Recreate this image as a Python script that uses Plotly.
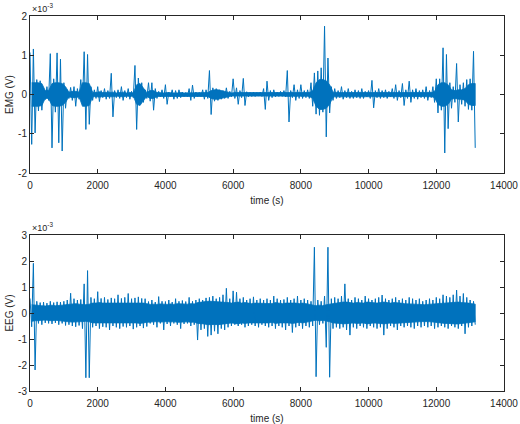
import plotly.graph_objects as go

# Time bins (start of each 100 s window), seconds
bin_start = list(range(0, 13200, 100))
bin_half = 50

# EMG extreme envelope per 100 s window (units of 1e-3 V)
emg_hi = [1.07, 1.16, 0.38, 0.35, 0.15, 0.20, 1.04, 0.40, 1.06, 0.90,
          0.30, 0.12, 0.18, 0.20, 0.15, 0.38, 1.09, 1.02, 0.20, 0.12,
          0.20, 0.10, 0.15, 0.10, 0.54, 0.10, 0.12, 0.20, 0.10, 0.15,
          0.08, 0.74, 0.42, 0.30, 0.12, 0.30, 0.30, 0.15, 0.08, 0.12,
          0.25, 0.06, 0.12, 0.10, 0.12, 0.06, 0.05, 0.15, 0.24, 0.06,
          0.05, 0.12, 0.12, 0.61, 0.17, 0.15, 0.12, 0.10, 0.17, 0.08,
          0.40, 0.17, 0.10, 0.41, 0.07, 0.05, 0.06, 0.05, 0.06, 0.15,
          0.34, 0.10, 0.12, 0.06, 0.08, 0.10, 0.61, 0.10, 0.25, 0.12,
          0.25, 0.10, 0.12, 0.30, 0.55, 0.60, 0.68, 1.74, 0.93, 0.20,
          0.15, 0.10, 0.20, 0.10, 0.15, 0.08, 0.12, 0.10, 0.15, 0.08,
          0.10, 0.36, 0.10, 0.15, 0.10, 0.12, 0.08, 0.15, 0.25, 0.10,
          0.28, 0.12, 0.34, 0.12, 0.15, 0.10, 0.12, 0.20, 0.10, 0.20,
          0.40, 0.40, 1.19, 1.02, 0.30, 0.20, 0.79, 0.25, 0.30, 0.38,
          0.40, 1.10]
emg_lo = [-1.27, -0.98, -0.42, -0.40, -0.13, -0.15, -1.36, -0.45, -1.23, -1.44,
          -0.35, -0.10, -0.15, -0.30, -0.12, -0.25, -0.89, -0.76, -0.15, -0.10,
          -0.18, -0.08, -0.12, -0.10, -0.57, -0.08, -0.10, -0.15, -0.08, -0.12,
          -0.08, -0.89, -0.25, -0.20, -0.10, -0.17, -0.40, -0.10, -0.06, -0.10,
          -0.25, -0.05, -0.12, -0.10, -0.08, -0.05, -0.05, -0.15, -0.10, -0.05,
          -0.05, -0.12, -0.10, -0.51, -0.17, -0.15, -0.12, -0.10, -0.10, -0.06,
          -0.10, -0.25, -0.08, -0.28, -0.06, -0.05, -0.05, -0.04, -0.05, -0.38,
          -0.15, -0.08, -0.06, -0.05, -0.05, -0.06, -0.70, -0.08, -0.15, -0.10,
          -0.10, -0.08, -0.10, -0.30, -0.50, -0.53, -0.45, -1.08, -0.47, -0.15,
          -0.10, -0.08, -0.12, -0.08, -0.10, -0.10, -0.08, -0.10, -0.10, -0.06,
          -0.10, -0.34, -0.08, -0.10, -0.08, -0.10, -0.06, -0.10, -0.15, -0.08,
          -0.28, -0.10, -0.20, -0.10, -0.12, -0.08, -0.10, -0.15, -0.08, -0.20,
          -0.47, -0.40, -1.49, -0.87, -0.35, -0.20, -0.70, -0.25, -0.30, -0.38,
          -0.40, -1.36]
# EMG dense-core half width per 100 s window (units of 1e-3 V)
emg_core = [0.30, 0.30, 0.30, 0.28, 0.10, 0.10, 0.28, 0.30, 0.30, 0.28,
            0.20, 0.06, 0.08, 0.08, 0.06, 0.30, 0.30, 0.28, 0.06, 0.05,
            0.07, 0.05, 0.05, 0.05, 0.06, 0.04, 0.05, 0.06, 0.04, 0.05,
            0.04, 0.25, 0.28, 0.15, 0.05, 0.10, 0.10, 0.05, 0.04, 0.04,
            0.05, 0.04, 0.04, 0.04, 0.05, 0.04, 0.04, 0.05, 0.04, 0.04,
            0.04, 0.05, 0.05, 0.10, 0.12, 0.12, 0.10, 0.08, 0.06, 0.04,
            0.05, 0.05, 0.04, 0.05, 0.04, 0.04, 0.04, 0.04, 0.04, 0.05,
            0.05, 0.04, 0.04, 0.04, 0.04, 0.04, 0.05, 0.04, 0.05, 0.04,
            0.05, 0.04, 0.05, 0.10, 0.30, 0.38, 0.38, 0.35, 0.25, 0.06,
            0.05, 0.05, 0.05, 0.05, 0.05, 0.05, 0.05, 0.05, 0.05, 0.05,
            0.05, 0.06, 0.05, 0.05, 0.05, 0.05, 0.05, 0.05, 0.06, 0.05,
            0.06, 0.05, 0.06, 0.05, 0.06, 0.05, 0.05, 0.06, 0.05, 0.08,
            0.25, 0.30, 0.30, 0.25, 0.12, 0.10, 0.12, 0.12, 0.15, 0.25,
            0.28, 0.28]

# EEG extreme envelope per 100 s window (units of 1e-3 V)
eeg_hi = [0.56, 1.91, 0.45, 0.40, 0.42, 0.38, 0.45, 0.40, 0.43, 0.42,
          0.45, 0.50, 0.76, 0.55, 0.50, 0.52, 1.12, 1.63, 0.60, 0.55,
          0.82, 0.56, 0.60, 0.52, 0.58, 0.55, 0.70, 0.56, 0.60, 0.75,
          0.55, 0.58, 0.62, 0.56, 0.55, 0.44, 0.50, 0.42, 0.63, 0.45,
          0.44, 0.50, 0.42, 0.55, 0.45, 0.48, 0.44, 0.60, 0.45, 0.50,
          0.55, 0.50, 0.58, 0.60, 0.65, 0.55, 0.60, 0.70, 0.95, 0.55,
          0.85, 0.80, 0.55, 0.60, 0.50, 0.55, 0.62, 0.50, 0.55, 0.50,
          0.55, 0.50, 0.65, 0.55, 0.50, 0.52, 0.60, 0.50, 0.55, 0.65,
          0.50, 0.55, 0.50, 0.45, 2.53, 0.50, 0.45, 0.65, 2.53, 0.55,
          0.60, 0.55, 0.65, 1.12, 0.55, 0.50, 0.60, 0.55, 0.50, 0.65,
          0.55, 0.50, 0.55, 0.60, 0.69, 0.55, 0.50, 0.55, 0.60, 0.50,
          0.55, 0.50, 0.60, 0.55, 0.50, 0.55, 0.45, 0.50, 0.55, 0.50,
          0.60, 0.55, 0.70, 0.65, 0.60, 0.70, 0.88, 0.65, 0.75, 0.60,
          0.50, 0.45]
eeg_lo = [-0.53, -2.19, -0.40, -0.45, -0.38, -0.40, -0.42, -0.38, -0.45, -0.40,
          -0.48, -0.45, -0.50, -0.53, -0.48, -0.60, -2.49, -2.49, -0.55, -0.50,
          -0.60, -0.53, -0.55, -0.65, -0.50, -0.55, -0.60, -0.52, -0.55, -0.50,
          -0.62, -0.55, -0.50, -0.58, -0.52, -0.40, -0.45, -0.55, -0.40, -0.65,
          -0.42, -0.50, -0.40, -0.45, -0.60, -0.42, -0.40, -0.50, -0.45, -1.04,
          -0.65, -0.60, -0.90, -0.85, -0.70, -0.80, -0.60, -0.65, -0.55, -0.50,
          -0.45, -0.50, -0.45, -0.55, -0.50, -0.45, -0.50, -0.55, -0.45, -0.50,
          -0.55, -0.50, -0.60, -0.50, -0.55, -0.65, -0.50, -0.75, -0.55, -0.50,
          -0.60, -0.50, -0.55, -0.50, -2.45, -0.45, -0.40, -1.32, -2.47, -0.60,
          -0.55, -0.60, -0.55, -0.65, -0.85, -0.55, -0.60, -0.50, -0.55, -0.60,
          -0.50, -0.55, -0.60, -0.55, -0.85, -0.60, -0.50, -0.55, -0.65, -0.50,
          -0.55, -0.50, -0.55, -0.60, -0.50, -0.55, -0.50, -0.55, -0.50, -0.60,
          -0.55, -0.50, -0.55, -0.60, -0.50, -0.55, -0.60, -0.50, -0.80, -0.55,
          -0.50, -0.45]
# EEG dense-core half width per 100 s window (units of 1e-3 V)
eeg_core = [0.32, 0.30, 0.28, 0.28, 0.27, 0.28, 0.30, 0.28, 0.28, 0.30,
            0.32, 0.34, 0.35, 0.36, 0.34, 0.33, 0.32, 0.34, 0.38, 0.38,
            0.40, 0.38, 0.38, 0.38, 0.40, 0.38, 0.40, 0.38, 0.38, 0.40,
            0.38, 0.38, 0.40, 0.38, 0.36, 0.33, 0.34, 0.33, 0.35, 0.34,
            0.33, 0.35, 0.33, 0.36, 0.35, 0.35, 0.34, 0.36, 0.35, 0.40,
            0.42, 0.42, 0.45, 0.45, 0.44, 0.45, 0.42, 0.42, 0.40, 0.38,
            0.40, 0.42, 0.38, 0.40, 0.38, 0.36, 0.38, 0.38, 0.36, 0.38,
            0.38, 0.36, 0.40, 0.38, 0.36, 0.38, 0.38, 0.40, 0.38, 0.36,
            0.38, 0.36, 0.34, 0.30, 0.28, 0.30, 0.28, 0.32, 0.34, 0.38,
            0.40, 0.40, 0.42, 0.42, 0.40, 0.38, 0.40, 0.40, 0.38, 0.42,
            0.40, 0.38, 0.38, 0.40, 0.42, 0.40, 0.38, 0.40, 0.40, 0.38,
            0.36, 0.35, 0.36, 0.35, 0.34, 0.33, 0.32, 0.33, 0.34, 0.35,
            0.38, 0.38, 0.40, 0.40, 0.40, 0.42, 0.42, 0.40, 0.40, 0.38,
            0.36, 0.34]

x_ticks = [0, 2000, 4000, 6000, 8000, 10000, 12000, 14000]
x_ticktext = ["0", "2000", "4000", "6000", "8000", "10000", "12000", "14000"]
emg_yticks = [-2, -1, 0, 1, 2]
emg_yticktext = ["-2", "-1", "0", "1", "2"]
eeg_yticks = [-3, -2, -1, 0, 1, 2, 3]
eeg_yticktext = ["-3", "-2", "-1", "0", "1", "2", "3"]


def zigzag(starts, hi, lo):
    xs, ys = [], []
    for t, h, l in zip(starts, hi, lo):
        xs += [t, t + bin_half]
        ys += [h, l]
    return xs, ys


def band(starts, core):
    mids = [t + bin_half for t in starts]
    xs = mids + mids[::-1]
    ys = list(core) + [-c for c in core[::-1]]
    return xs, ys


LINE = "#0072BD"
AX = "#262626"
FONT = "Liberation Sans, Arial, sans-serif"

fig = go.Figure()
for (starts, hi, lo, core, xa, ya) in [
        (bin_start, emg_hi, emg_lo, emg_core, "x", "y"),
        (bin_start, eeg_hi, eeg_lo, eeg_core, "x2", "y2")]:
    bx, by = band(starts, core)
    fig.add_trace(go.Scatter(x=bx, y=by, mode="lines", fill="toself",
                             fillcolor=LINE, line=dict(color=LINE, width=0.8),
                             xaxis=xa, yaxis=ya, showlegend=False, hoverinfo="skip"))
    zx, zy = zigzag(starts, hi, lo)
    fig.add_trace(go.Scatter(x=zx, y=zy, mode="lines",
                             line=dict(color=LINE, width=1, simplify=False),
                             xaxis=xa, yaxis=ya, showlegend=False, hoverinfo="skip"))

axis_common = dict(showgrid=False, zeroline=False, showline=True, linecolor=AX,
                   linewidth=1, mirror="ticks", ticks="inside", ticklen=4,
                   tickcolor=AX, tickwidth=1, automargin=False,
                   tickfont=dict(family=FONT, size=10, color=AX))

title_font = dict(size=10, family=FONT, color=AX)

fig.update_layout(
    width=520, height=424,
    margin=dict(l=30, r=16, t=16, b=33),
    paper_bgcolor="white", plot_bgcolor="white",
    font=dict(family=FONT, size=10, color=AX),
    hovermode=False,
    xaxis=dict(domain=[0, 1], anchor="y", range=[0, 14000],
               tickvals=x_ticks, ticktext=x_ticktext, ticklabelstandoff=3,
               title=dict(text="time (s)", standoff=6, font=title_font),
               **axis_common),
    yaxis=dict(domain=[0.5813, 1.0], anchor="x", range=[-2, 2],
               tickvals=emg_yticks, ticktext=emg_yticktext,
               title=dict(text="EMG (V)", standoff=2, font=title_font),
               **axis_common),
    xaxis2=dict(domain=[0, 1], anchor="y2", range=[0, 14000],
                tickvals=x_ticks, ticktext=x_ticktext, ticklabelstandoff=3,
                title=dict(text="time (s)", standoff=6, font=title_font),
                **axis_common),
    yaxis2=dict(domain=[0, 0.416], anchor="x2", range=[-3, 3],
                tickvals=eeg_yticks, ticktext=eeg_yticktext,
                title=dict(text="EEG (V)", standoff=2, font=title_font),
                **axis_common),
    annotations=[
        dict(text="×10<sup>-3</sup>", x=0, y=1.0, xref="paper", yref="paper",
             xanchor="left", yanchor="bottom", showarrow=False,
             font=dict(size=9, family=FONT, color=AX)),
        dict(text="×10<sup>-3</sup>", x=0, y=0.416, xref="paper", yref="paper",
             xanchor="left", yanchor="bottom", showarrow=False,
             font=dict(size=9, family=FONT, color=AX)),
    ],
)

fig.write_html("out.html", config={"displayModeBar": False, "staticPlot": True},
               post_script="document.body.style.margin='0';document.body.style.overflow='hidden';")
